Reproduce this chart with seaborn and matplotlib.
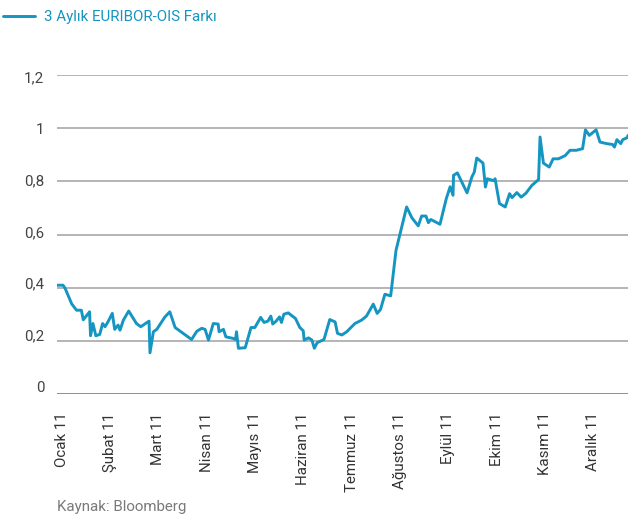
import matplotlib
matplotlib.use("Agg")
import matplotlib.pyplot as plt
import matplotlib.transforms as mtransforms
import seaborn as sns
import pandas as pd

# ---- data ----
month_labels = ["Ocak 11", "Şubat 11", "Mart 11", "Nisan 11", "Mayıs 11", "Haziran 11",
                "Temmuz 11", "Ağustos 11", "Eylül 11", "Ekim 11", "Kasım 11", "Aralık 11"]

# time in months since the start of January 2011
t_month = [-0.10, 0.03, 0.07, 0.21, 0.31, 0.41, 0.45, 0.58, 0.60, 0.65, 0.71, 0.79, 0.85,
           0.90, 0.96, 1.05, 1.10, 1.17, 1.21, 1.28, 1.39, 1.55, 1.64, 1.81, 1.83, 1.90,
           1.97, 2.14, 2.24, 2.35, 2.69, 2.80, 2.90, 2.97, 3.04, 3.14, 3.24, 3.26, 3.35,
           3.40, 3.55, 3.60, 3.62, 3.66, 3.80, 3.92, 4.00, 4.12, 4.19, 4.27, 4.33, 4.37,
           4.44, 4.51, 4.55, 4.60, 4.69, 4.84, 4.93, 5.00, 5.02, 5.11, 5.18, 5.23, 5.29,
           5.43, 5.55, 5.66, 5.71, 5.80, 5.90, 6.07, 6.21, 6.31, 6.45, 6.53, 6.60, 6.69,
           6.81, 6.92, 7.04, 7.14, 7.25, 7.38, 7.45, 7.54, 7.59, 7.64, 7.83, 7.96, 8.04,
           8.10, 8.11, 8.19, 8.39, 8.49, 8.54, 8.59, 8.72, 8.77, 8.81, 8.94, 8.97, 9.06,
           9.18, 9.27, 9.32, 9.42, 9.51, 9.61, 9.73, 9.87, 9.90, 9.97, 10.09, 10.17, 10.28,
           10.42, 10.52, 10.65, 10.78, 10.84, 10.92, 11.06, 11.14, 11.28, 11.40, 11.44,
           11.49, 11.57, 11.61, 11.70, 11.72]

spread = [0.410, 0.410, 0.400, 0.340, 0.316, 0.316, 0.280, 0.310, 0.220, 0.266, 0.220, 0.225,
          0.266, 0.254, 0.272, 0.304, 0.244, 0.260, 0.241, 0.279, 0.313, 0.266, 0.254, 0.275,
          0.156, 0.235, 0.244, 0.291, 0.310, 0.251, 0.206, 0.237, 0.248, 0.244, 0.204, 0.266,
          0.264, 0.235, 0.244, 0.216, 0.210, 0.206, 0.235, 0.173, 0.175, 0.251, 0.251, 0.289,
          0.270, 0.275, 0.294, 0.264, 0.275, 0.291, 0.270, 0.301, 0.306, 0.285, 0.251, 0.239,
          0.204, 0.212, 0.204, 0.173, 0.194, 0.206, 0.281, 0.272, 0.229, 0.223, 0.235, 0.266,
          0.279, 0.294, 0.339, 0.304, 0.319, 0.376, 0.370, 0.541, 0.629, 0.704, 0.663, 0.633,
          0.670, 0.670, 0.645, 0.657, 0.639, 0.735, 0.780, 0.748, 0.823, 0.832, 0.757, 0.817,
          0.835, 0.888, 0.869, 0.779, 0.810, 0.803, 0.810, 0.717, 0.704, 0.754, 0.739, 0.758,
          0.741, 0.756, 0.785, 0.807, 0.967, 0.869, 0.854, 0.885, 0.885, 0.897, 0.917, 0.917,
          0.923, 0.994, 0.973, 0.994, 0.948, 0.942, 0.939, 0.929, 0.957, 0.942, 0.957, 0.964,
          0.973]

y_ticks = [0, 0.2, 0.4, 0.6, 0.8, 1.0, 1.2]
y_tick_labels = ["0", "0,2", "0,4", "0,6", "0,8", "1", "1,2"]

series_name = "3 Aylık EURIBOR-OIS Farkı"
source_text = "Kaynak: Bloomberg"

# ---- style ----
sns.set_style("white")
plt.rcParams["font.family"] = ["Roboto", "DejaVu Sans"]

LINE_C = "#1595c1"
TEXT_C = "#444444"
GRID_C = "#a0a0a0"
FS = 10.9

df = pd.DataFrame({"t": t_month, "v": spread})

fig = plt.figure(figsize=(6.28, 5.17), dpi=100)
W, H = 628, 517
ax = fig.add_axes([56.7 / W, 1 - 394.3 / H, (628 - 56.7) / W, (394.3 - 75.0) / H])

sns.lineplot(data=df, x="t", y="v", ax=ax, color=LINE_C, linewidth=2.1, label=series_name)

ax.set_xlim(t_month[0], t_month[-1])
ax.set_ylim(0, 1.2)
ax.set_xlabel("")
ax.set_ylabel("")

ax.set_yticks(y_ticks)
ax.set_yticklabels(y_tick_labels)
ax.set_xticks(range(len(month_labels)))
ax.set_xticklabels(month_labels, rotation=90, va="top", ha="center")

ax.tick_params(axis="y", length=0, pad=9, labelsize=FS, labelcolor=TEXT_C)
ax.tick_params(axis="x", length=0, pad=13, labelsize=FS, labelcolor="#333333")

# horizontal grid
ax.grid(False)
for yv in y_ticks:
    ax.axhline(yv, color="#707070" if yv == 0 else GRID_C, linewidth=1.1, zorder=0)
for s in ax.spines.values():
    s.set_visible(False)

# slight vertical shift of y tick labels as in the reference
for lbl, yv in zip(ax.get_yticklabels(), y_ticks):
    k = (1.2 - yv) / 0.2
    off_px = 2 - 1.7 * k
    lbl.set_transform(lbl.get_transform() +
                      mtransforms.ScaledTranslation(0, -off_px / 100, fig.dpi_scale_trans))

# legend at top left
leg = ax.legend(loc="center left", bbox_to_anchor=(3 / W, 1 - 17 / H),
                bbox_transform=fig.transFigure, frameon=False, fontsize=FS,
                handlelength=2.12, handletextpad=0.62, borderpad=0, borderaxespad=0)
for txt in leg.get_texts():
    txt.set_color(LINE_C)

fig.text(57 / W, 1 - 507 / H, source_text, va="center", ha="left",
         fontsize=FS, color="#7a7a7a")

fig.savefig("out.png", dpi=100)
